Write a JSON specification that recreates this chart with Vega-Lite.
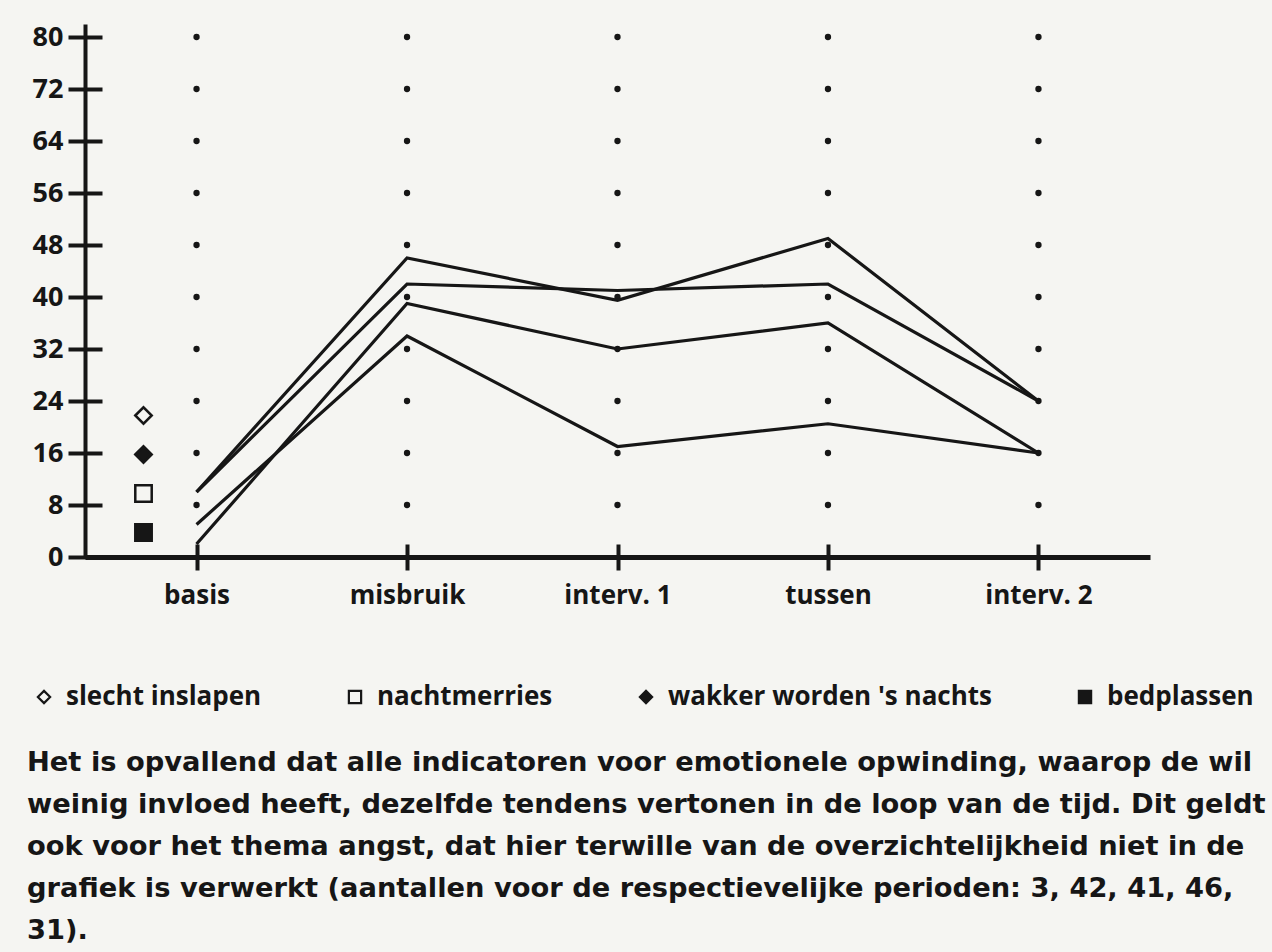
{
  "$schema": "https://vega.github.io/schema/vega-lite/v6.json",
  "width": 1065,
  "height": 533,
  "autosize": {"type": "none"},
  "padding": {"left": 85, "top": 24, "right": 122, "bottom": 395},
  "background": "#f5f5f2",
  "view": {"stroke": null},
  "config": {"font": "Open Sans", "axis": {"grid": false}},
  "title": {
    "text": [
      "Het is opvallend dat alle indicatoren voor emotionele opwinding, waarop de wil",
      "weinig invloed heeft, dezelfde tendens vertonen in de loop van de tijd. Dit geldt",
      "ook voor het thema angst, dat hier terwille van de overzichtelijkheid niet in de",
      "grafiek is verwerkt (aantallen voor de respectievelijke perioden: 3, 42, 41, 46,",
      "31)."
    ],
    "orient": "bottom",
    "anchor": "start",
    "frame": "bounds",
    "offset": 39,
    "dx": -4,
    "font": "DejaVu Sans",
    "fontSize": 27.3,
    "fontWeight": "bold",
    "lineHeight": 42,
    "color": "#161616"
  },
  "datasets": {
    "raster": [
      {"periode": "basis", "niveau": 8}, {"periode": "basis", "niveau": 16}, {"periode": "basis", "niveau": 24}, {"periode": "basis", "niveau": 32}, {"periode": "basis", "niveau": 40}, {"periode": "basis", "niveau": 48}, {"periode": "basis", "niveau": 56}, {"periode": "basis", "niveau": 64}, {"periode": "basis", "niveau": 72}, {"periode": "basis", "niveau": 80},
      {"periode": "misbruik", "niveau": 8}, {"periode": "misbruik", "niveau": 16}, {"periode": "misbruik", "niveau": 24}, {"periode": "misbruik", "niveau": 32}, {"periode": "misbruik", "niveau": 40}, {"periode": "misbruik", "niveau": 48}, {"periode": "misbruik", "niveau": 56}, {"periode": "misbruik", "niveau": 64}, {"periode": "misbruik", "niveau": 72}, {"periode": "misbruik", "niveau": 80},
      {"periode": "interv. 1", "niveau": 8}, {"periode": "interv. 1", "niveau": 16}, {"periode": "interv. 1", "niveau": 24}, {"periode": "interv. 1", "niveau": 32}, {"periode": "interv. 1", "niveau": 40}, {"periode": "interv. 1", "niveau": 48}, {"periode": "interv. 1", "niveau": 56}, {"periode": "interv. 1", "niveau": 64}, {"periode": "interv. 1", "niveau": 72}, {"periode": "interv. 1", "niveau": 80},
      {"periode": "tussen", "niveau": 8}, {"periode": "tussen", "niveau": 16}, {"periode": "tussen", "niveau": 24}, {"periode": "tussen", "niveau": 32}, {"periode": "tussen", "niveau": 40}, {"periode": "tussen", "niveau": 48}, {"periode": "tussen", "niveau": 56}, {"periode": "tussen", "niveau": 64}, {"periode": "tussen", "niveau": 72}, {"periode": "tussen", "niveau": 80},
      {"periode": "interv. 2", "niveau": 8}, {"periode": "interv. 2", "niveau": 16}, {"periode": "interv. 2", "niveau": 24}, {"periode": "interv. 2", "niveau": 32}, {"periode": "interv. 2", "niveau": 40}, {"periode": "interv. 2", "niveau": 48}, {"periode": "interv. 2", "niveau": 56}, {"periode": "interv. 2", "niveau": 64}, {"periode": "interv. 2", "niveau": 72}, {"periode": "interv. 2", "niveau": 80}
    ],
    "tellingen": [
      {"reeks": "slecht inslapen", "periode": "basis", "aantal": 10},
      {"reeks": "slecht inslapen", "periode": "misbruik", "aantal": 46},
      {"reeks": "slecht inslapen", "periode": "interv. 1", "aantal": 39.5},
      {"reeks": "slecht inslapen", "periode": "tussen", "aantal": 49},
      {"reeks": "slecht inslapen", "periode": "interv. 2", "aantal": 24},
      {"reeks": "wakker worden 's nachts", "periode": "basis", "aantal": 10},
      {"reeks": "wakker worden 's nachts", "periode": "misbruik", "aantal": 42},
      {"reeks": "wakker worden 's nachts", "periode": "interv. 1", "aantal": 41},
      {"reeks": "wakker worden 's nachts", "periode": "tussen", "aantal": 42},
      {"reeks": "wakker worden 's nachts", "periode": "interv. 2", "aantal": 24},
      {"reeks": "nachtmerries", "periode": "basis", "aantal": 2},
      {"reeks": "nachtmerries", "periode": "misbruik", "aantal": 39},
      {"reeks": "nachtmerries", "periode": "interv. 1", "aantal": 32},
      {"reeks": "nachtmerries", "periode": "tussen", "aantal": 36},
      {"reeks": "nachtmerries", "periode": "interv. 2", "aantal": 16},
      {"reeks": "bedplassen", "periode": "basis", "aantal": 5},
      {"reeks": "bedplassen", "periode": "misbruik", "aantal": 34},
      {"reeks": "bedplassen", "periode": "interv. 1", "aantal": 17},
      {"reeks": "bedplassen", "periode": "tussen", "aantal": 20.5},
      {"reeks": "bedplassen", "periode": "interv. 2", "aantal": 16}
    ]
  },
  "layer": [
    {
      "data": {"name": "raster"},
      "mark": {"type": "circle", "size": 40, "color": "#161616", "opacity": 1},
      "encoding": {
        "x": {"field": "periode", "type": "nominal", "scale": {"type": "point", "domain": ["basis", "misbruik", "interv. 1", "tussen", "interv. 2"], "padding": 0.53},
          "axis": {"orient": "bottom", "title": null, "domain": true, "domainColor": "#161616", "domainWidth": 5, "ticks": false, "labels": false}},
        "y": {"field": "niveau", "type": "quantitative", "scale": {"domain": [0, 82], "nice": false},
          "axis": {"orient": "left", "title": null, "domain": true, "domainColor": "#161616", "domainWidth": 4, "ticks": false, "labels": false, "grid": false}}
      }
    },
    {
      "data": {"name": "tellingen"},
      "mark": {"type": "line", "color": "#161616", "strokeWidth": 3.2, "strokeJoin": "miter"},
      "encoding": {
        "x": {"field": "periode", "type": "nominal", "scale": {"type": "point", "domain": ["basis", "misbruik", "interv. 1", "tussen", "interv. 2"], "padding": 0.53},
          "axis": {"orient": "bottom", "title": null, "domain": false, "ticks": true, "tickSize": 26, "tickWidth": 4, "tickColor": "#161616", "offset": -13, "labelAngle": 0, "labelFont": "Open Sans", "labelFontWeight": "bold", "labelFontSize": 26, "labelColor": "#161616", "labelPadding": 12}},
        "y": {"field": "aantal", "type": "quantitative", "scale": {"domain": [0, 82], "nice": false},
          "axis": {"orient": "left", "title": null, "domain": false, "grid": false, "values": [0, 8, 16, 24, 32, 40, 48, 56, 64, 72, 80], "tickSize": 34, "tickWidth": 4, "tickColor": "#161616", "offset": -17, "labelFont": "Open Sans", "labelFontWeight": "bold", "labelFontSize": 27, "labelColor": "#161616", "labelPadding": 5}},
        "detail": {"field": "reeks"}
      }
    },
    {
      "data": {"name": "tellingen"},
      "mark": {"type": "point", "opacity": 0, "stroke": "#161616"},
      "encoding": {
        "x": {"field": "periode", "type": "nominal", "axis": null},
        "y": {"field": "aantal", "type": "quantitative", "axis": null},
        "shape": {"field": "reeks", "type": "nominal",
          "scale": {"domain": ["slecht inslapen", "wakker worden 's nachts", "nachtmerries", "bedplassen"], "range": ["diamond", "diamond", "square", "square"]},
          "legend": {"orient": "none", "legendX": 49, "legendY": 382, "direction": "vertical", "title": null, "labelExpr": "''", "symbolSize": 270, "symbolStrokeColor": "#161616", "symbolStrokeWidth": 2.5, "rowPadding": 12, "padding": 0, "symbolOpacity": 1,
            "encode": {"symbols": {"update": {"stroke": {"value": "#161616"}, "strokeWidth": {"value": 2.5}, "opacity": {"value": 1}}}}}},
        "fill": {"field": "reeks", "type": "nominal",
          "scale": {"domain": ["slecht inslapen", "wakker worden 's nachts", "nachtmerries", "bedplassen"], "range": ["#f5f5f2", "#161616", "#f5f5f2", "#161616"]},
          "legend": {"orient": "none", "legendX": 49, "legendY": 382, "direction": "vertical", "title": null, "labelExpr": "''", "symbolSize": 270, "symbolStrokeColor": "#161616", "symbolStrokeWidth": 2.5, "rowPadding": 12, "padding": 0, "symbolOpacity": 1,
            "encode": {"symbols": {"update": {"stroke": {"value": "#161616"}, "strokeWidth": {"value": 2.5}, "opacity": {"value": 1}}}}}}
      }
    },
    {
      "data": {"name": "tellingen"},
      "mark": {"type": "point", "opacity": 0, "stroke": "#161616"},
      "encoding": {
        "x": {"field": "periode", "type": "nominal", "axis": null},
        "y": {"field": "aantal", "type": "quantitative", "axis": null},
        "shape": {"field": "reeks", "type": "nominal",
          "scale": {"domain": ["slecht inslapen", "nachtmerries", "wakker worden 's nachts", "bedplassen"], "range": ["diamond", "square", "diamond", "square"]},
          "legend": {"orient": "none", "legendX": -54, "legendY": 660, "direction": "horizontal", "title": null, "symbolSize": 150, "symbolStrokeColor": "#161616", "symbolStrokeWidth": 2.2, "labelFont": "Open Sans", "labelFontSize": 26, "labelFontWeight": "bold", "labelColor": "#161616", "labelOffset": 9, "labelLimit": 600, "columnPadding": 80, "padding": 0, "symbolOpacity": 1,
            "encode": {"symbols": {"update": {"stroke": {"value": "#161616"}, "strokeWidth": {"value": 2.2}, "opacity": {"value": 1}}}}}},
        "fill": {"field": "reeks", "type": "nominal",
          "scale": {"domain": ["slecht inslapen", "nachtmerries", "wakker worden 's nachts", "bedplassen"], "range": ["#f5f5f2", "#f5f5f2", "#161616", "#161616"]},
          "legend": {"orient": "none", "legendX": -54, "legendY": 660, "direction": "horizontal", "title": null, "symbolSize": 150, "symbolStrokeColor": "#161616", "symbolStrokeWidth": 2.2, "labelFont": "Open Sans", "labelFontSize": 26, "labelFontWeight": "bold", "labelColor": "#161616", "labelOffset": 9, "labelLimit": 600, "columnPadding": 80, "padding": 0, "symbolOpacity": 1,
            "encode": {"symbols": {"update": {"stroke": {"value": "#161616"}, "strokeWidth": {"value": 2.2}, "opacity": {"value": 1}}}}}}
      }
    }
  ],
  "resolve": {
    "scale": {"shape": "independent", "fill": "independent"},
    "legend": {"shape": "independent", "fill": "independent"},
    "axis": {"x": "independent", "y": "independent"}
  }
}
